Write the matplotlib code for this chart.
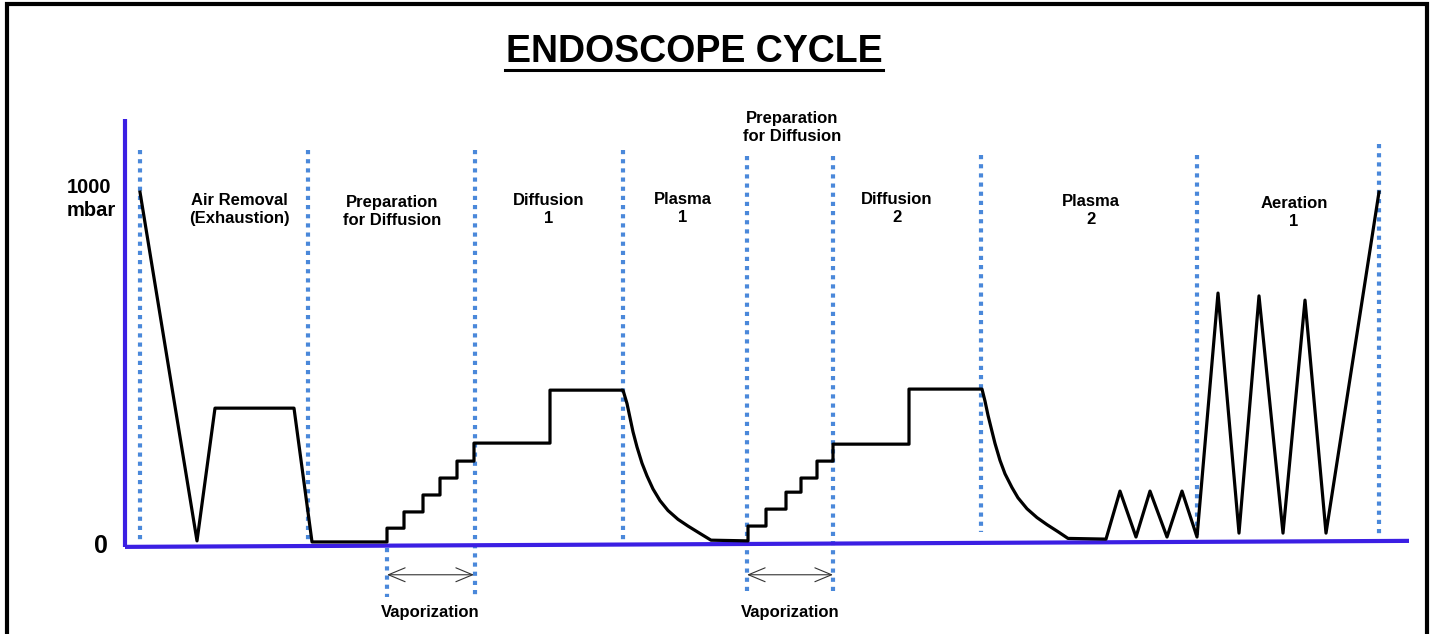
import matplotlib
matplotlib.use("Agg")
import matplotlib.pyplot as plt
from matplotlib.patches import Rectangle

plt.rcParams["font.family"] = ["Liberation Sans", "DejaVu Sans"]
plt.rcParams["font.weight"] = "bold"

# pressure trace: time (arbitrary units) vs pressure (mbar)
t = [140, 197, 215, 294, 312, 387,
     387, 404, 404, 423, 423, 440, 440, 457, 457, 474, 474, 550, 550, 623,
     627, 630, 633, 637, 642, 647, 653, 660, 668, 678, 688, 700, 711, 748,
     748, 766, 766, 786, 786, 801, 801, 817, 817, 833, 833, 909, 909, 982,
     985, 988, 992, 995, 1000, 1005, 1012, 1018, 1027, 1037, 1047, 1058, 1068, 1106,
     1120, 1136, 1150, 1167, 1182, 1197,
     1218, 1239, 1259, 1283, 1305, 1326, 1379]
p = [994, 6, 382, 382, 3, 3,
     42, 42, 88, 88, 136, 136, 184, 184, 232, 232, 283, 283, 433, 433,
     395, 355, 315, 272, 226, 190, 153, 120, 92, 67, 48, 27, 8, 6,
     48, 48, 96, 96, 144, 144, 184, 184, 232, 232, 280, 280, 436, 436,
     402, 362, 316, 282, 234, 196, 157, 128, 97, 72, 52, 32, 13, 11,
     147, 17, 147, 17, 147, 17,
     708, 28, 700, 28, 688, 28, 994]

# phase boundaries (dotted lines): time, top, bottom (mbar)
bound_t = [140, 308, 475, 387, 623, 747, 833, 981, 1197, 1379]
bound_top = [1113, 1113, 1113, -14, 1113, 1096, 1096, 1099, 1099, 1130]
bound_bot = [6, 3, -150, -153, 6, -142, -150, 31, 17, 17]

phase_labels = ["Air Removal\n(Exhaustion)", "Preparation\nfor Diffusion",
                "Diffusion\n1", "Plasma\n1", "Preparation\nfor Diffusion",
                "Diffusion\n2", "Plasma\n2", "Aeration\n1"]
vapor_start = [387, 747]
vapor_end = [474, 833]

# axis lines (time, mbar)
yaxis_t = [125, 125]
yaxis_p = [1201, -11]
xaxis_t = [125, 1409]
xaxis_p = [-11, 6]

# layout for labels
label_x = [239, 392, 549, 683, 792, 897, 1091, 1294]
label_y = [946, 938, 946, 948, 1177, 948, 941, 935]

W, H = 1437, 634
fig = plt.figure(figsize=(W / 100, H / 100), dpi=100)
ax = fig.add_axes([0, 0, 1, 1])
ax.set_xlim(0, W)
ax.set_ylim(-257.8, 1538.2)
ax.axis("off")

blue = "#3b1fe3"
dot_blue = "#4a88da"

for x, top, bot in zip(bound_t, bound_top, bound_bot):
    ax.plot([x, x], [top, bot], color=dot_blue, lw=3.0,
            linestyle=(0, (1, 1.2)), dash_capstyle="butt", zorder=1)

ax.plot(yaxis_t, yaxis_p, color=blue, lw=3.0, solid_capstyle="butt", zorder=2)
ax.plot(xaxis_t, xaxis_p, color=blue, lw=3.0, solid_capstyle="butt", zorder=2)

ax.plot(t, p, color="black", lw=2.3, solid_joinstyle="round", zorder=3)

for x0, x1 in zip(vapor_start, vapor_end):
    ax.annotate("", xy=(x1, -90), xytext=(x0, -90),
                arrowprops=dict(arrowstyle="<->,head_length=1.2,head_width=0.5",
                                lw=0.8, color="#333333", shrinkA=0, shrinkB=0))
    ax.text((x0 + x1) / 2, -198, "Vaporization", ha="center", va="center",
            fontsize=12, fontweight="bold")

for lab, x, y in zip(phase_labels, label_x, label_y):
    ax.text(x, y, lab, ha="center", va="center", fontsize=12,
            fontweight="bold", linespacing=1.25)

ax.text(67, 974, "1000\nmbar", ha="left", va="center", fontsize=14.5,
        fontweight="bold", linespacing=1.3)
ax.text(101, -9, "0", ha="center", va="center", fontsize=18, fontweight="bold")

# frame and title
fig.patches.append(Rectangle((7 / W, -0.1), 1420 / W, 1.1 - 4 / H,
                             transform=fig.transFigure, fill=False,
                             edgecolor="black", lw=3.0))
title = fig.text(694 / W, 1 - 52 / H, "ENDOSCOPE CYCLE", ha="center",
                 va="center", fontsize=27, fontweight="bold")
fig.canvas.draw()
bb = title.get_window_extent().transformed(fig.transFigure.inverted())
fig.add_artist(plt.Line2D([bb.x0 - 1 / W, bb.x1 + 1 / W], [1 - 70 / H] * 2,
                          transform=fig.transFigure, color="black", lw=2.2))

fig.savefig("out.png", dpi=100)
